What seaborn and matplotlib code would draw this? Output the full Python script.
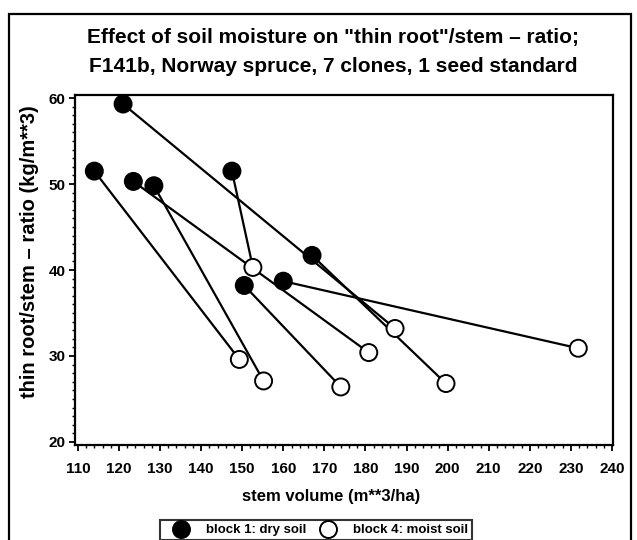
import matplotlib
matplotlib.use("Agg")
import matplotlib.pyplot as plt
import seaborn as sns
import pandas as pd
from matplotlib.patches import Rectangle
from matplotlib.ticker import MultipleLocator

# data: one pair (dry soil, moist soil) per clone / seed standard
clone = [1, 2, 3, 4, 5, 6, 7, 8]
dry_volume = [114.0, 128.5, 123.5, 147.5, 150.5, 160.0, 121.0, 167.0]
dry_ratio = [51.5, 49.8, 50.3, 51.5, 38.2, 38.7, 59.3, 41.7]
moist_volume = [149.3, 155.2, 180.8, 152.6, 174.0, 231.8, 187.2, 199.6]
moist_ratio = [29.6, 27.1, 30.4, 40.3, 26.4, 30.9, 33.2, 26.8]
block_labels = ["block 1: dry soil", "block 4: moist soil"]
x_ticks = list(range(110, 241, 10))
y_ticks = [20, 30, 40, 50, 60]

df = pd.DataFrame({
    "clone": clone + clone,
    "volume": dry_volume + moist_volume,
    "ratio": dry_ratio + moist_ratio,
    "block": [block_labels[0]] * len(clone) + [block_labels[1]] * len(clone),
})

sns.set_theme(style="white")
plt.rcParams["font.family"] = ["Liberation Sans", "DejaVu Sans"]

fig = plt.figure(figsize=(6.37, 5.40), dpi=100)
ax = fig.add_axes([75 / 637, 1 - 445 / 540, (613 - 75) / 637, (445 - 95) / 540])

sns.lineplot(data=df, x="volume", y="ratio", units="clone", estimator=None,
             sort=False, color="black", linewidth=1.6, ax=ax, legend=False)
sns.scatterplot(data=df, x="volume", y="ratio", hue="block", style="block",
                hue_order=block_labels, style_order=block_labels,
                palette={block_labels[0]: "black", block_labels[1]: "white"},
                markers={block_labels[0]: "o", block_labels[1]: "o"},
                s=150, edgecolor="black", linewidth=1.4, ax=ax, zorder=5)

ax.set_xlim(109.3, 240.25)
ax.set_ylim(19.65, 60.35)
ax.set_xticks(x_ticks)
ax.set_yticks(y_ticks)
ax.xaxis.set_minor_locator(MultipleLocator(2))
ax.yaxis.set_minor_locator(MultipleLocator(1))
ax.tick_params(axis="both", which="major", direction="out", length=4, width=1.3,
               color="black", labelsize=11, pad=3, bottom=True, left=True,
               labelcolor="black")
ax.tick_params(axis="both", which="minor", direction="out", length=2, width=1,
               color="black", bottom=True, left=True)
ax.tick_params(axis="x", pad=8)
for lab in ax.get_xticklabels() + ax.get_yticklabels():
    lab.set_fontweight("bold")
for sp in ax.spines.values():
    sp.set_color("black")
    sp.set_linewidth(1.6)

ax.set_xlabel("stem volume (m**3/ha)", fontsize=12, fontweight="bold", color="black")
ax.set_ylabel("thin root/stem – ratio (kg/m**3)", fontsize=14.5, fontweight="bold",
              color="black")
ax.xaxis.set_label_coords((331 - 75) / 538, -(497 - 445) / 350)
ax.yaxis.set_label_coords(-(75 - 30) / 538, (445 - 252) / 350)
ax.xaxis.label.set_va("center")
ax.yaxis.label.set_va("center")

fig.text(333 / 637, 1 - 37 / 540, 'Effect of soil moisture on "thin root"/stem – ratio;',
         ha="center", va="center", fontsize=15, fontweight="bold", color="black")
fig.text(333 / 637, 1 - 67 / 540, "F141b, Norway spruce, 7 clones, 1 seed standard",
         ha="center", va="center", fontsize=15, fontweight="bold", color="black")

# outer frame
fig.patches.append(Rectangle((9 / 637, -0.05), (631 - 9) / 637, 1.05 - 14 / 540,
                             transform=fig.transFigure, fill=False,
                             edgecolor="black", linewidth=1.6))

sns.move_legend(ax, "upper left", bbox_to_anchor=(160 / 637, 1 - 520 / 540),
                bbox_transform=fig.transFigure, ncol=2, title=None, frameon=True,
                prop={"size": 9.5, "weight": "bold"}, handlelength=2.6,
                handletextpad=0.6, columnspacing=0.3, borderpad=0.3,
                borderaxespad=0, fancybox=False, edgecolor="black")
leg = ax.get_legend()
leg.get_frame().set_linewidth(1.5)
for t in leg.get_texts():
    t.set_color("black")

fig.savefig("out.png", dpi=100)
